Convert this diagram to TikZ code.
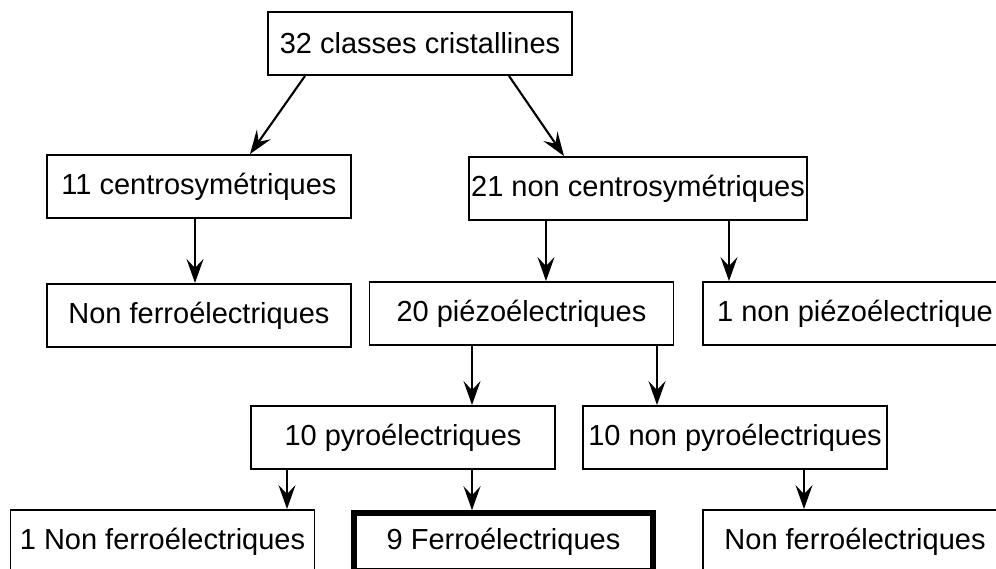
\documentclass[tikz,border=0pt]{standalone}
\usepackage{fontspec}
\setmainfont{Liberation Sans}
\usetikzlibrary{arrows.meta,positioning}

\begin{document}
\begin{tikzpicture}[
    x=1pt,y=-1pt,
    classbox/.style={draw=black,line width=1.9pt,fill=white,
      minimum width=304pt,minimum height=63pt,inner sep=2pt,align=center,
      font=\fontsize{29}{34}\selectfont},
    keybox/.style={classbox,line width=5.5pt,minimum width=299pt,minimum height=58pt},
    arrow/.style={-{Stealth[length=24pt,width=17pt,inset=9pt]},line width=2.1pt}
  ]
    \useasboundingbox (0,0) rectangle (996,569);
    \begin{scope}
    \clip (0,0) rectangle (996,569);
    \node[classbox] (classes) at (420,43.5) {32 classes cristallines};
    \node[classbox] (centro) at (199,186.5) {11 centrosymétriques};
    \node[classbox] (noncentro) at (638,188.5) {21 non centrosymétriques};
    \node[classbox,below=64pt of centro] (nonferroA) {Non ferroélectriques};
    \node[classbox] (piezo) at (521.5,313.5) {20 piézoélectriques};
    \node[classbox] (nonpiezo) at (855,313.5) {1 non piézoélectrique};
    \node[classbox] (pyro) at (403,437.5) {10 pyroélectriques};
    \node[classbox] (nonpyro) at (735,437.5) {10 non pyroélectriques};
    \node[classbox] (nonferroB) at (162.5,541.5) {1 Non ferroélectriques};
    \node[keybox] (ferro) at (503.5,542) {9 Ferroélectriques};
    \node[classbox] (nonferroC) at (855,541.5) {Non ferroélectriques};
    \end{scope}
    \draw[arrow] ([xshift=-115pt]classes.south) -- ([xshift=51pt]centro.north);
    \draw[arrow] ([xshift=89pt]classes.south) -- ([xshift=-74pt]noncentro.north);
    \draw[arrow] ([xshift=-4pt]centro.south) -- ([xshift=-4pt]nonferroA.north);
    \draw[arrow] ([xshift=-92pt]noncentro.south) -- ([xshift=-92pt]noncentro.south |- piezo.north);
    \draw[arrow] ([xshift=91pt]noncentro.south) -- ([xshift=91pt]noncentro.south |- nonpiezo.north);
    \draw[arrow] ([xshift=-49.5pt]piezo.south) -- ([xshift=-49.5pt]piezo.south |- pyro.north);
    \draw[arrow] ([xshift=135.5pt]piezo.south) -- ([xshift=135.5pt]piezo.south |- nonpyro.north);
    \draw[arrow] ([xshift=-116pt]pyro.south) -- ([xshift=-116pt]pyro.south |- nonferroB.north);
    \draw[arrow] ([xshift=69pt]pyro.south) -- ([xshift=69pt]pyro.south |- ferro.north);
    \draw[arrow] ([xshift=69pt]nonpyro.south) -- ([xshift=69pt]nonpyro.south |- nonferroC.north);
  \end{tikzpicture}
\end{document}
